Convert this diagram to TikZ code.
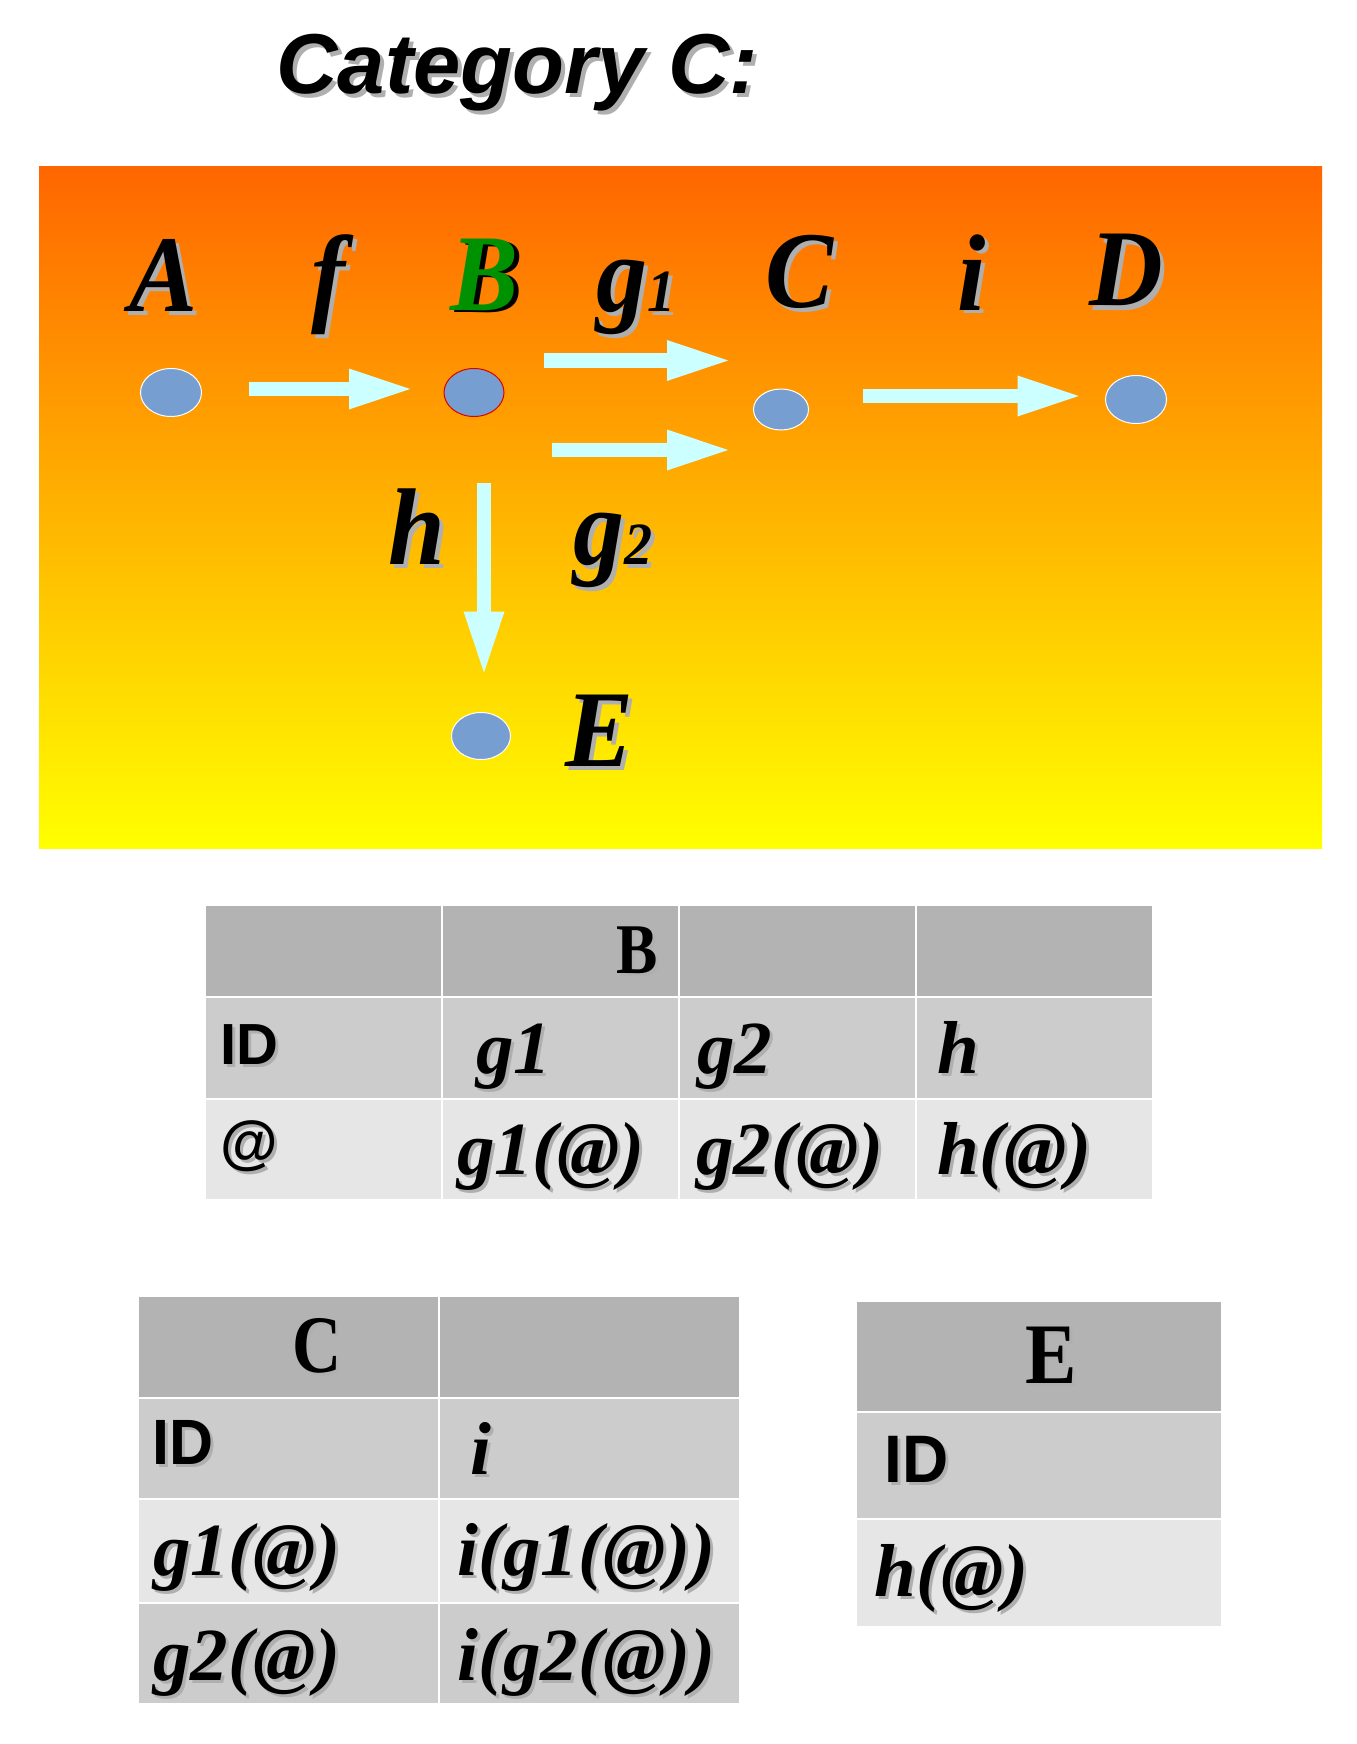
\documentclass[tikz,border=0pt]{standalone}
\usepackage{fontspec}
\setmainfont{Liberation Serif}
\newfontfamily\arialf{Liberation Sans}
\usetikzlibrary{arrows.meta,shapes.geometric}

\definecolor{dotblue}{RGB}{118,158,208}
\definecolor{arrowc}{RGB}{204,255,255}
\definecolor{shadowgray}{RGB}{175,175,175}
\definecolor{bgtop}{RGB}{255,102,0}
\definecolor{bgbot}{RGB}{255,255,0}
\definecolor{hdrgray}{RGB}{179,179,179}
\definecolor{midgray}{RGB}{204,204,204}
\definecolor{lightgray2}{RGB}{230,230,230}
\definecolor{bgreen}{RGB}{0,145,0}
\definecolor{redline}{RGB}{220,0,0}

% shadowed text: [offset px]{name}{style}{(x,y)}{text}
\newcommand\shd[5][4]{%
  \node[#3, text=shadowgray, xshift=#1*0.5pt, yshift=-#1*0.5pt] (#2-sh) at #4 {#5};
  \node[#3] (#2) at #4 {#5};}
\newcommand\lt[1]{\scalebox{1}[1.07]{#1}}
\newcommand\cellrect[5]{\path[fill=#1, draw=white, line width=1pt] (#2,#3) rectangle (#4,#5);}

\begin{document}
\begin{tikzpicture}[x=0.5pt, y=-0.5pt,
  lbl/.style={font=\fontsize{51}{60}\selectfont\bfseries\itshape, inner sep=0, anchor=base, text=black},
  ttl/.style={font=\arialf\fontsize{42.5}{50}\selectfont\bfseries\itshape, inner sep=0, anchor=base west, text=black},
  dot/.style={ellipse, fill=dotblue, draw=white, line width=0.5pt, inner sep=0},
  arr/.style={draw=arrowc, line width=7.3pt, -{Triangle[length=30.5pt, width=20.5pt, line width=0pt]}},
  hdr/.style={inner sep=0, text=black},
  idt/.style={inner sep=0, anchor=base west, text=black},
  val/.style={font=\fontsize{37.5}{44}\selectfont\bfseries\itshape, inner sep=0, anchor=base west, text=black}
]
\useasboundingbox (0,0) rectangle (1356,1744);

% title
\shd{title}{ttl}{(276,94)}{Category C:}

% background panel
\shade[top color=bgtop, bottom color=bgbot] (39,167) rectangle (1322,848);

% objects (dots)
\node[dot, minimum width=30.5pt, minimum height=24pt] (dA) at (171,392.5) {};
\node[dot, draw=redline, minimum width=30pt, minimum height=24pt] (dB) at (474,392.5) {};
\node[dot, minimum width=27.5pt, minimum height=20.5pt] (dC) at (781,409.5) {};
\node[dot, minimum width=30.5pt, minimum height=24pt] (dD) at (1136,399.5) {};
\node[dot, minimum width=29.5pt, minimum height=23.5pt] (dE) at (481,736) {};

% arrows
\coordinate (f-s) at (248.5,389);  \coordinate (f-e) at (410,389);
\coordinate (g1-s) at (544,360.5); \coordinate (g1-e) at (728,360.5);
\coordinate (g2-s) at (551.5,450); \coordinate (g2-e) at (728,450);
\coordinate (i-s) at (862.5,396);  \coordinate (i-e) at (1078.5,396);
\coordinate (h-s) at (484,483);    \coordinate (h-e) at (484,672.5);
\draw[arr] (f-s) -- (f-e);
\draw[arr] (g1-s) -- (g1-e);
\draw[arr] (g2-s) -- (g2-e);
\draw[arr] (i-s) -- (i-e);
\draw[arr] (h-s) -- (h-e);

% labels
\shd{lA}{lbl}{(164,311)}{\lt{A}}
\shd{lf}{lbl}{(328,311)}{\lt{f}}
\node[lbl, text=black, xshift=2.5pt, yshift=-1pt] (lB-sh) at (485,310) {\lt{B}};
\node[lbl, text=bgreen] (lB) at (485,310) {\lt{B}};
\shd{lg1}{lbl, anchor=base west}{(596,311)}{\lt{g{\fontsize{28}{30}\selectfont 1}}}
\shd{lC}{lbl}{(800,307)}{\lt{C}}
\shd{li}{lbl}{(972,310)}{\lt{i}}
\shd{lD}{lbl}{(1126,306)}{\lt{D}}
\shd{lh}{lbl}{(417,564)}{\lt{h}}
\shd{lg2}{lbl, anchor=base west}{(573,564)}{\lt{g{\fontsize{28}{30}\selectfont 2}}}
\shd{lE}{lbl}{(600,766)}{\lt{E}}

% ---- table B ----
\cellrect{hdrgray}{205}{905}{442}{997}
\cellrect{hdrgray}{442}{905}{679}{997}
\cellrect{hdrgray}{679}{905}{916}{997}
\cellrect{hdrgray}{916}{905}{1153}{997}
\cellrect{midgray}{205}{997}{442}{1099}
\cellrect{midgray}{442}{997}{679}{1099}
\cellrect{midgray}{679}{997}{916}{1099}
\cellrect{midgray}{916}{997}{1153}{1099}
\cellrect{lightgray2}{205}{1099}{442}{1200}
\cellrect{lightgray2}{442}{1099}{679}{1200}
\cellrect{lightgray2}{679}{1099}{916}{1200}
\cellrect{lightgray2}{916}{1099}{1153}{1200}

\shd[3]{tBh}{hdr, anchor=base east, font=\fontsize{31}{36}\selectfont\bfseries}{(658,973)}{\scalebox{1}[1.15]{B}}
\shd[3]{tBid}{idt, font=\arialf\fontsize{29}{34}\selectfont\bfseries}{(220,1064)}{ID}
\shd[3]{tBat}{idt, font=\arialf\fontsize{29.5}{34}\selectfont\bfseries}{(220,1162)}{@}
\shd[3]{tBg1}{val}{(476,1073)}{g1}
\shd[3]{tBg2}{val}{(697,1073)}{g2}
\shd[3]{tBhh}{val}{(937,1073)}{h}
\shd[3]{tBg1a}{val}{(457,1174)}{g1(@)}
\shd[3]{tBg2a}{val}{(696,1174)}{g2(@)}
\shd[3]{tBha}{val}{(937,1174)}{h(@)}

% ---- table C ----
\cellrect{hdrgray}{138}{1296}{439}{1398}
\cellrect{hdrgray}{439}{1296}{740}{1398}
\cellrect{midgray}{138}{1398}{439}{1499}
\cellrect{midgray}{439}{1398}{740}{1499}
\cellrect{lightgray2}{138}{1499}{439}{1603}
\cellrect{lightgray2}{439}{1499}{740}{1603}
\cellrect{midgray}{138}{1603}{439}{1704}
\cellrect{midgray}{439}{1603}{740}{1704}

\shd[3]{tCh}{hdr, anchor=base, font=\fontsize{34}{40}\selectfont\bfseries}{(317,1372)}{\scalebox{1}[1.2]{C}}
\shd[3]{tCid}{idt, font=\arialf\fontsize{30.5}{36}\selectfont\bfseries}{(152,1464)}{\scalebox{1}[1.05]{ID}}
\shd[3]{tCi}{val}{(470,1474)}{i}
\shd[3]{tCg1}{val}{(153,1575)}{g1(@)}
\shd[3]{tCig1}{val}{(457,1575)}{i(g1(@))}
\shd[3]{tCg2}{val}{(153,1680)}{g2(@)}
\shd[3]{tCig2}{val}{(457,1680)}{i(g2(@))}

% ---- table E ----
\cellrect{hdrgray}{856}{1301}{1222}{1412}
\cellrect{midgray}{856}{1412}{1222}{1519}
\cellrect{lightgray2}{856}{1519}{1222}{1627}

\shd[3]{tEh}{hdr, anchor=base, font=\fontsize{38.5}{44}\selectfont\bfseries}{(1051,1383)}{\scalebox{1}[1.12]{E}}
\shd[3]{tEid}{idt, font=\arialf\fontsize{32}{38}\selectfont\bfseries}{(884,1482)}{\scalebox{1}[1.05]{ID}}
\shd[3]{tEha}{val}{(874,1596)}{h(@)}
\end{tikzpicture}
\end{document}
